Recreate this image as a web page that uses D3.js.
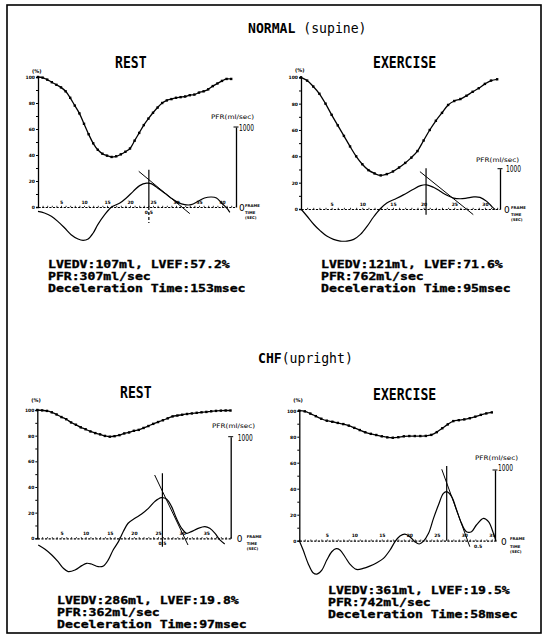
<!DOCTYPE html>
<html>
<head>
<meta charset="utf-8">
<script src="https://cdn.jsdelivr.net/npm/d3@7"></script>
<style>
  body { margin: 0; background: #fff; }
  svg { display: block; }
</style>
</head>
<body>
<svg id="chart" width="546" height="638"></svg>
<script>
// ---------- data ----------
const pctTicks = d3.range(0, 101, 10);

const normalRestFrames = [5, 10, 15, 20, 25, 30, 35, 40];
const normalExFrames = [5, 10, 15, 20, 25, 30];
const chfRestFrames = [5, 10, 15, 20, 25, 30, 35];
const chfExFrames = [5, 10, 15, 20, 25, 30, 35];

// LV volume, % of end-diastolic volume, one value per frame
const normalRestVolume = [100, 99.5, 98, 96, 94, 92, 89, 84, 78, 72, 64, 56, 49, 44, 41, 39.5, 38.5, 39, 40.5, 42.5,
  45, 51, 57, 63, 68, 72.5, 76.5, 80, 82, 83, 84, 84.5, 85, 86, 86.5, 88, 89, 90.5, 93, 95, 97, 98.5, 98.5];
const normalExVolume = [100, 97.5, 93, 87.5, 80, 71.5, 63.5, 55.5, 47.5, 40, 34, 29.5, 27, 25.5, 26.5, 28.5, 31.5,
  35, 39, 44, 52, 60, 67, 73, 79, 82, 83.5, 86, 89, 91.7, 95, 97.5, 98.5];
const chfRestVolume = [100, 99.7, 99.3, 98.2, 96.5, 94.5, 92.8, 90.3, 88.5, 86.5, 85, 83.3, 82, 81, 79.8, 79.2, 79.6,
  80.4, 81.7, 82.5, 83.8, 84.5, 86, 87.5, 89.2, 90.6, 92, 93.5, 95, 95.7, 96.3, 96.9, 97.3, 97.8, 98.2, 98.5, 99,
  99.3, 99.5, 99.6, 99.6];
const chfExVolume = [100, 99.5, 97.8, 95.8, 93.8, 92.3, 91.5, 90.6, 89.7, 88.5, 86.8, 85.1, 83.4, 82.2, 81.3, 80.3,
  79.5, 79.2, 79.6, 80.3, 80.5, 80.5, 80.5, 80.6, 81.4, 83.5, 86.5, 89.5, 92, 92.7, 93.3, 94.2, 95.4, 96.8, 97.9, 98.7];

// filling / ejection rate curve: [frame, ml/sec]
const normalRestRate = [[0, -54], [1.4, -75], [2.9, -117], [4.3, -180], [5.8, -263], [7.2, -346], [8.7, -400],
  [9.8, -417], [10.9, -400], [12, -325], [13, -221], [14.5, -96], [16, 0], [17.8, 50], [19.2, 113], [20.7, 196],
  [22.1, 267], [23.6, 298], [24.6, 292], [26, 238], [27.5, 175], [28.9, 113], [30.4, 58], [31.9, 29], [33.3, 29],
  [34.8, 71], [36.2, 113], [37.7, 125], [38.8, 113], [39.9, 50], [41, -12], [41.7, -67]];
const normalExRate = [[0, 0], [1, -180], [2.1, -385], [3.2, -550], [4.2, -672], [5.3, -754], [6.4, -795],
  [7.5, -795], [8.6, -754], [9.7, -631], [10.8, -426], [11.8, -205], [12.9, 0], [14, 148], [15.4, 250],
  [16.7, 350], [18.1, 470], [19.5, 580], [20.5, 600], [21.6, 540], [22.7, 440], [23.8, 340], [24.9, 270],
  [26, 254], [27, 270], [28.2, 300], [29.2, 290], [30.3, 189], [31.1, 66], [31.7, -16]];
const chfRestRate = [[0.2, -66], [1.6, -108], [3, -164], [4.3, -230], [5.4, -295], [6.4, -328], [7.8, -312],
  [9.2, -269], [10.2, -246], [11.2, -253], [12.6, -279], [13.7, -272], [14.7, -213], [15.7, -115], [16.8, -33],
  [17.8, 66], [18.8, 148], [20.2, 197], [21.6, 239], [23, 295], [24.3, 361], [25.7, 400], [26.8, 385],
  [27.8, 312], [28.8, 197], [29.9, 98], [30.9, 49], [31.9, 66], [33.3, 98], [34.7, 115], [35.7, 98], [36.8, 49],
  [37.8, -16], [38.8, -56]];
const chfExRate = [[0, 0], [0.7, -132], [1.6, -321], [2.5, -453], [3.2, -472], [4.1, -415], [5, -274],
  [5.9, -156], [6.7, -113], [7.4, -132], [8.3, -227], [9.2, -330], [10.4, -406], [11.6, -392], [12.8, -359],
  [14.1, -311], [15.3, -250], [16.5, -132], [17.4, -14], [18.3, 66], [19.2, 94], [20.1, 57], [21, -14],
  [21.8, -47], [22.5, -14], [23.5, 104], [24.4, 316], [25.3, 505], [26.2, 670], [26.8, 694], [27.7, 623],
  [28.6, 434], [29.5, 245], [30.4, 127], [31.3, 127], [32.2, 222], [33.5, 316], [34.4, 269], [35.3, 104],
  [35.8, -14]];

// deceleration slope lines: two [frame, ml/sec] ends
const normalRestTangent = [[21.9, 446], [33, -83]];
const normalExTangent = [[19.4, 927], [28.1, -139]];
const chfRestTangent = [[24.3, 623], [31.2, -66]];
const chfExTangent = [[25.9, 1010], [31, -85]];

// peak marker: [frame, top ml/sec, bottom ml/sec]
const normalRestMarker = [24.1, 466, -200];
const normalExMarker = [20.4, 1010, -140];
const chfRestMarker = [25.9, 640, -82];
const chfExMarker = [26.8, 1056, 0];

// frame where the "0.5" sec label sits (null = none)
const halfSecFrames = [24.1, null, 25.9, 32.5];

const panelTitles = ["REST", "EXERCISE", "REST", "EXERCISE"];
const groupTitles = [["NORMAL", " (supine)"], ["CHF", "(upright)"]];

const normalRestText = ["LVEDV:107ml, LVEF:57.2%", "PFR:307ml/sec", "Deceleration Time:153msec"];
const normalExText = ["LVEDV:121ml, LVEF:71.6%", "PFR:762ml/sec", "Deceleration Time:95msec"];
const chfRestText = ["LVEDV:286ml, LVEF:19.8%", "PFR:362ml/sec", "Deceleration Time:97msec"];
const chfExText = ["LVEDV:361ml, LVEF:19.5%", "PFR:742ml/sec", "Deceleration Time:58msec"];

// ---------- layout ----------
const MONO = "'DejaVu Sans Mono', 'Liberation Mono', monospace";
const SANS = "'DejaVu Sans', Arial, sans-serif";
const CHAR_W = 7.9;

const layouts = [
  { x0: 38, k: 4.6, y0: 207, y100: 77, y1000: 127, xr: 236, pctY: 72.5,
    titleX: 115, titleY: 68, textX: 48, textY: 268, pfrX: 211, pfrY: 119, kDx: 3, kDy: 3.5, zDx: 3, fDx: 9 },
  { x0: 301, k: 6.13, y0: 209, y100: 77.3, y1000: 168.7, xr: 500, pctY: 72,
    titleX: 373, titleY: 68, textX: 321, textY: 268, pfrX: 476, pfrY: 162, kDx: 6, kDy: 3.5, zDx: 4, fDx: 11 },
  { x0: 37.3, k: 4.83, y0: 538.3, y100: 410, y1000: 436.7, xr: 230.7, pctY: 402,
    titleX: 120, titleY: 398, textX: 57, textY: 604, pfrX: 212, pfrY: 428, kDx: 7, kDy: 4, zDx: 6, fDx: 16 },
  { x0: 299.3, k: 5.5, y0: 540.7, y100: 410.7, y1000: 470, xr: 495, pctY: 402,
    titleX: 373, titleY: 400, textX: 328, textY: 594, pfrX: 475, pfrY: 460, kDx: 3, kDy: 1, zDx: 6, fDx: 15 }
];

const panels = [
  { frames: normalRestFrames, volume: normalRestVolume, rate: normalRestRate, tangent: normalRestTangent,
    marker: normalRestMarker, text: normalRestText, dashedFoot: true },
  { frames: normalExFrames, volume: normalExVolume, rate: normalExRate, tangent: normalExTangent,
    marker: normalExMarker, text: normalExText, dashedFoot: false },
  { frames: chfRestFrames, volume: chfRestVolume, rate: chfRestRate, tangent: chfRestTangent,
    marker: chfRestMarker, text: chfRestText, dashedFoot: false },
  { frames: chfExFrames, volume: chfExVolume, rate: chfExRate, tangent: chfExTangent,
    marker: chfExMarker, text: chfExText, dashedFoot: false }
];

const svg = d3.select("#chart");

// outer frame
svg.append("rect")
  .attr("x", 7).attr("y", 5).attr("width", 534).attr("height", 628)
  .attr("fill", "none").attr("stroke", "#000").attr("stroke-width", 1.6);

// monospace text squeezed to the printer's ~8px pitch
function monoText(g, str, x, y, size, weight) {
  return g.append("text")
    .attr("x", x).attr("y", y)
    .attr("font-family", MONO).attr("font-size", size).attr("font-weight", weight || "normal")
    .attr("textLength", str.length * CHAR_W).attr("lengthAdjust", "spacingAndGlyphs")
    .text(str);
}

// group headings: first word heavier, like the print
function groupTitle(parts, x, y) {
  const t = svg.append("text")
    .attr("x", x).attr("y", y)
    .attr("font-family", MONO).attr("font-size", 14)
    .attr("textLength", (parts[0] + parts[1]).length * CHAR_W).attr("lengthAdjust", "spacingAndGlyphs");
  t.append("tspan").attr("font-weight", "bold").text(parts[0]);
  t.append("tspan").text(parts[1]);
}
groupTitle(groupTitles[0], 248, 33);
groupTitle(groupTitles[1], 258, 363);

function tiny(g, str, x, y, size, anchor) {
  return g.append("text")
    .attr("x", x).attr("y", y)
    .attr("font-family", SANS).attr("font-size", size).attr("font-weight", "bold")
    .attr("text-anchor", anchor || "start")
    .text(str);
}

function drawPanel(p, L, i) {
  const g = svg.append("g").attr("class", "panel");

  const x = d3.scaleLinear().domain([0, (L.xr - L.x0) / L.k]).range([L.x0, L.xr]);
  const yPct = d3.scaleLinear().domain([0, 100]).range([L.y0, L.y100]);
  const yRate = d3.scaleLinear().domain([0, 1000]).range([L.y0, L.y1000]);

  // title
  monoText(g, panelTitles[i], L.titleX, L.titleY, 15, "bold");

  // left % axis
  const yAxis = d3.axisLeft(yPct)
    .tickValues(pctTicks)
    .tickSize(2)
    .tickPadding(1)
    .tickFormat(d => d % 20 === 0 ? d : "");
  const ya = g.append("g").attr("transform", `translate(${L.x0},0)`).call(yAxis);
  ya.select(".domain").attr("stroke-width", 1.3);
  ya.selectAll("text").attr("font-family", SANS).attr("font-size", 4.5).attr("font-weight", "bold").attr("fill", "#000");
  tiny(g, "(%)", L.x0 - 6, L.pctY, 5);

  // frame axis: dotted baseline with a tick per frame
  const nFrames = Math.floor(x.domain()[1]);
  const minor = d3.axisTop(x).tickValues(d3.range(0, nFrames + 1)).tickSize(1.2).tickSizeOuter(0).tickFormat("");
  const mg = g.append("g").attr("transform", `translate(0,${L.y0})`).call(minor);
  mg.select(".domain").attr("stroke-width", 1.2).attr("stroke-dasharray", "2.2,1.4");
  mg.selectAll(".tick line").attr("stroke-width", 0.8);

  const major = d3.axisTop(x).tickValues(p.frames).tickSize(0).tickPadding(3.5);
  const fg = g.append("g").attr("transform", `translate(0,${L.y0})`).call(major);
  fg.select(".domain").remove();
  fg.selectAll("text").attr("font-family", SANS).attr("font-size", 4.5).attr("font-weight", "bold").attr("fill", "#000");

  // right PFR axis
  const ra = d3.axisRight(yRate).tickValues([0, 1000]).tickSize(0).tickFormat("");
  const rg = g.append("g").attr("transform", `translate(${L.xr},0)`).call(ra);
  rg.select(".domain").attr("stroke-width", 1.3);
  g.append("line")
    .attr("x1", L.xr - 2.5).attr("x2", L.xr + 2.5)
    .attr("y1", yRate(1000)).attr("y2", yRate(1000))
    .attr("stroke", "#000").attr("stroke-width", 1);

  tiny(g, "PFR(ml/sec)", L.pfrX, L.pfrY, 6.2).attr("font-weight", "normal")
    .attr("textLength", 43).attr("lengthAdjust", "spacingAndGlyphs");
  g.append("text")
    .attr("x", L.xr + L.kDx).attr("y", yRate(1000) + L.kDy)
    .attr("font-family", SANS).attr("font-size", 8).attr("textLength", 15).attr("lengthAdjust", "spacingAndGlyphs")
    .text("1000");
  g.append("text")
    .attr("x", L.xr + L.zDx).attr("y", yRate(0) + 4)
    .attr("font-family", SANS).attr("font-size", 9)
    .text("0");
  tiny(g, "FRAME", L.xr + L.fDx, yRate(0) - 0.5, 3.8);
  tiny(g, "TIME", L.xr + L.fDx, yRate(0) + 7, 3.8);
  tiny(g, "(SEC)", L.xr + L.fDx, yRate(0) + 12, 3.8);

  // volume curve with a dot per frame
  const volLine = d3.line()
    .x((d, j) => x(j))
    .y(d => yPct(d))
    .curve(d3.curveCatmullRom.alpha(0.5));
  g.append("path")
    .datum(p.volume)
    .attr("d", volLine)
    .attr("fill", "none").attr("stroke", "#000").attr("stroke-width", 1.3);
  g.selectAll("rect.dot")
    .data(p.volume)
    .join("rect")
    .attr("class", "dot")
    .attr("x", (d, j) => x(j) - 1.2).attr("y", d => yPct(d) - 1.2)
    .attr("width", 2.4).attr("height", 2.4)
    .attr("fill", "#000");

  // rate curve
  const rateLine = d3.line()
    .x(d => x(d[0]))
    .y(d => yRate(d[1]))
    .curve(d3.curveCatmullRom.alpha(0.5));
  g.append("path")
    .datum(p.rate)
    .attr("d", rateLine)
    .attr("fill", "none").attr("stroke", "#000").attr("stroke-width", 1.2);

  // deceleration slope
  g.append("path")
    .datum(p.tangent)
    .attr("d", d3.line().x(d => x(d[0])).y(d => yRate(d[1])))
    .attr("fill", "none").attr("stroke", "#000").attr("stroke-width", 1);

  // peak marker
  const [mf, mTop, mBot] = p.marker;
  g.append("line")
    .attr("x1", x(mf)).attr("x2", x(mf))
    .attr("y1", yRate(mTop)).attr("y2", yRate(0))
    .attr("stroke", "#000").attr("stroke-width", 1.2);
  if (mBot < 0) {
    g.append("line")
      .attr("x1", x(mf)).attr("x2", x(mf))
      .attr("y1", yRate(0)).attr("y2", yRate(mBot))
      .attr("stroke", "#000").attr("stroke-width", 1.2)
      .attr("stroke-dasharray", p.dashedFoot ? "3,2" : null);
  }

  if (halfSecFrames[i] !== null) {
    tiny(g, "0.5", x(halfSecFrames[i]), yRate(0) + 7, 4.5, "middle");
  }

  // summary text block: small enough that the lines don't collide, thickened with a stroke
  p.text.forEach((str, j) => {
    monoText(g, str, L.textX, L.textY + j * 12.2, 10.4, "bold")
      .attr("stroke", "#000").attr("stroke-width", 0.35);
  });
}

panels.forEach((p, i) => drawPanel(p, layouts[i], i));
</script>
</body>
</html>
